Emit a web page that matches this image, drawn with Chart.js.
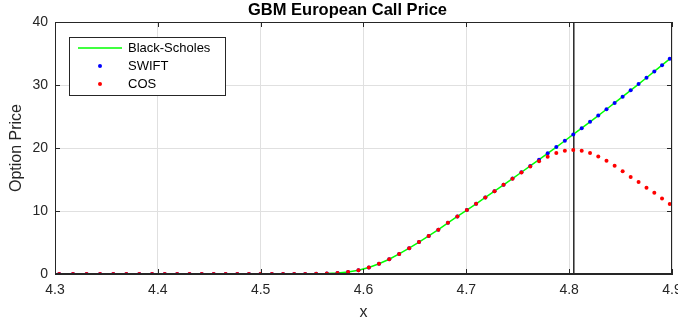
<!DOCTYPE html>
<html>
<head>
<meta charset="utf-8">
<script src="https://cdn.jsdelivr.net/npm/chart.js@4.4.1/dist/chart.umd.min.js"></script>
<style>
  html, body { margin: 0; padding: 0; background: #ffffff; }
  #wrap { width: 678px; height: 327px; }
</style>
</head>
<body>
<div id="wrap"><canvas id="c" width="678" height="327"></canvas></div>
<script>
// log-spot grid (x = ln S for S = 74 ... 134)
const logSpot = [
  4.3041, 4.3175, 4.3307, 4.3438, 4.3567, 4.3694, 4.3820, 4.3944, 4.4067, 4.4188,
  4.4308, 4.4427, 4.4543, 4.4659, 4.4773, 4.4886, 4.4998, 4.5109, 4.5218, 4.5326,
  4.5433, 4.5539, 4.5643, 4.5747, 4.5850, 4.5951, 4.6052, 4.6151, 4.6250, 4.6347,
  4.6444, 4.6540, 4.6634, 4.6728, 4.6821, 4.6913, 4.7005, 4.7095, 4.7185, 4.7274,
  4.7362, 4.7449, 4.7536, 4.7622, 4.7707, 4.7791, 4.7875, 4.7958, 4.8040, 4.8122,
  4.8203, 4.8283, 4.8363, 4.8442, 4.8520, 4.8598, 4.8675, 4.8752, 4.8828, 4.8903,
  4.8978
];

// closed-form reference prices
const blackScholes = [
  0, 0, 0, 0, 0, 0, 0, 0, 0, 0,
  0, 0, 0, 0, 0, 0, 0, 0, 0, 0,
  0.01, 0.02, 0.06, 0.15, 0.32, 0.60, 1.02, 1.62, 2.34, 3.18,
  4.10, 5.06, 6.04, 7.03, 8.12, 9.14, 10.15, 11.15, 12.15, 13.15,
  14.15, 15.15, 16.15, 17.15, 18.15, 19.15, 20.15, 21.15, 22.15, 23.15,
  24.15, 25.15, 26.15, 27.15, 28.15, 29.15, 30.15, 31.15, 32.15, 33.15,
  34.15
];

// SWIFT wavelet prices
const swift = [
  0, 0, 0, 0, 0, 0, 0, 0, 0, 0,
  0, 0, 0, 0, 0, 0, 0, 0, 0, 0,
  0.01, 0.02, 0.06, 0.15, 0.32, 0.60, 1.02, 1.62, 2.34, 3.18,
  4.10, 5.06, 6.04, 7.03, 8.12, 9.14, 10.15, 11.15, 12.15, 13.15,
  14.15, 15.15, 16.15, 17.15, 18.15, 19.15, 20.15, 21.15, 22.15, 23.15,
  24.15, 25.15, 26.15, 27.15, 28.15, 29.15, 30.15, 31.15, 32.15, 33.15,
  34.15
];

// COS prices (break down past the truncation bound)
const cos = [
  0, 0, 0, 0, 0, 0, 0, 0, 0, 0,
  0, 0, 0, 0, 0, 0, 0, 0, 0, 0,
  0.01, 0.02, 0.06, 0.15, 0.32, 0.60, 1.02, 1.62, 2.34, 3.18,
  4.10, 5.06, 6.04, 7.03, 8.12, 9.14, 10.15, 11.15, 12.15, 13.15,
  14.15, 15.12, 16.1, 17.05, 17.9, 18.6, 19.2, 19.55, 19.7, 19.55,
  19.2, 18.65, 17.97, 17.2, 16.3, 15.4, 14.6, 13.7, 12.9, 12.0,
  11.1
];

// truncation bound marker
const boundX = 4.8045;

const xTicks = [4.3, 4.4, 4.5, 4.6, 4.7, 4.8, 4.9];
const yTicks = [0, 10, 20, 30, 40];

const titleText = 'GBM European Call Price';
const xTitle = 'x';
const yTitle = 'Option Price';

const ink = '#262626';
const gridColor = '#e0e0e0';
const fontFam = '"Liberation Sans", Arial, Helvetica, sans-serif';

const pts = arr => logSpot.map((x, i) => ({ x: x, y: arr[i] }));

// title, box frame, inward tick marks and in-plot legend
const decorations = {
  id: 'decorations',
  afterDraw(chart) {
    const ctx = chart.ctx;
    const a = chart.chartArea;
    const sx = chart.scales.x, sy = chart.scales.y;
    ctx.save();

    // frame
    ctx.strokeStyle = ink;
    ctx.lineWidth = 1;
    ctx.strokeRect(Math.round(a.left) + 0.5, Math.round(a.top) + 0.5,
                   Math.round(a.right - a.left) - 1, Math.round(a.bottom - a.top) - 1);

    // inward tick marks on all four sides
    const tl = 5;
    ctx.beginPath();
    xTicks.forEach(v => {
      const px = Math.round(sx.getPixelForValue(v)) + 0.5;
      ctx.moveTo(px, a.bottom); ctx.lineTo(px, a.bottom - tl);
      ctx.moveTo(px, a.top); ctx.lineTo(px, a.top + tl);
    });
    yTicks.forEach(v => {
      const py = Math.round(sy.getPixelForValue(v)) + 0.5;
      ctx.moveTo(a.left, py); ctx.lineTo(a.left + tl, py);
      ctx.moveTo(a.right, py); ctx.lineTo(a.right - tl, py);
    });
    ctx.stroke();

    // title
    ctx.fillStyle = '#000000';
    ctx.font = 'bold 16.5px ' + fontFam;
    ctx.textAlign = 'center';
    ctx.textBaseline = 'middle';
    ctx.fillText(titleText, 347.5, 10);

    // legend box
    const bx = 69.5, by = 37.5, bw = 156, bh = 58;
    ctx.fillStyle = '#ffffff';
    ctx.fillRect(bx, by, bw, bh);
    ctx.strokeStyle = ink;
    ctx.strokeRect(bx, by, bw, bh);

    const items = chart.data.datasets.filter(d => d.inLegend);
    ctx.font = '13px ' + fontFam;
    ctx.textAlign = 'left';
    ctx.textBaseline = 'middle';
    items.forEach((d, i) => {
      const yy = 48 + i * 18;
      if (d.showLine) {
        ctx.strokeStyle = d.borderColor;
        ctx.lineWidth = d.borderWidth;
        ctx.beginPath();
        ctx.moveTo(78, yy); ctx.lineTo(122, yy);
        ctx.stroke();
      } else {
        ctx.fillStyle = d.pointBackgroundColor;
        ctx.beginPath();
        ctx.arc(100, yy, d.pointRadius, 0, Math.PI * 2);
        ctx.fill();
      }
      ctx.fillStyle = '#000000';
      ctx.fillText(d.label, 128, yy + 0.5);
    });
    ctx.restore();
  }
};

new Chart(document.getElementById('c'), {
  type: 'scatter',
  data: {
    datasets: [
      {
        label: 'Black-Scholes',
        inLegend: true,
        data: pts(blackScholes),
        showLine: true,
        borderColor: '#00ff00',
        borderWidth: 1.5,
        pointRadius: 0,
        order: 2
      },
      {
        label: 'SWIFT',
        inLegend: true,
        data: pts(swift),
        showLine: false,
        pointRadius: 2,
        pointBorderWidth: 0,
        pointBackgroundColor: '#0000ff',
        borderColor: '#0000ff',
        order: 1
      },
      {
        label: 'COS',
        inLegend: true,
        data: pts(cos),
        showLine: false,
        pointRadius: 2,
        pointBorderWidth: 0,
        pointBackgroundColor: '#ff0000',
        borderColor: '#ff0000',
        order: 0
      },
      {
        label: 'bound',
        inLegend: false,
        data: [{ x: boundX, y: 0 }, { x: boundX, y: 40 }],
        showLine: true,
        borderColor: ink,
        borderWidth: 1.5,
        pointRadius: 0,
        order: 3
      }
    ]
  },
  plugins: [decorations],
  options: {
    responsive: false,
    animation: false,
    devicePixelRatio: 1,
    layout: { padding: { top: 22, right: 6, left: 0, bottom: 0 } },
    plugins: {
      legend: { display: false },
      title: { display: false },
      tooltip: { enabled: false }
    },
    scales: {
      x: {
        type: 'linear',
        min: 4.3,
        max: 4.9,
        afterBuildTicks: s => { s.ticks = xTicks.map(v => ({ value: v })); },
        afterFit: s => { s.height = 53; s.paddingLeft = 0; s.paddingRight = 0; },
        grid: { color: gridColor, lineWidth: 1, drawTicks: false },
        border: { display: true, color: ink, width: 1 },
        ticks: {
          padding: 8,
          color: ink,
          font: { family: fontFam, size: 14 },
          maxRotation: 0,
          autoSkip: false,
          callback: v => v.toFixed(1)
        },
        title: {
          display: true,
          text: xTitle,
          color: ink,
          font: { family: fontFam, size: 16 },
          padding: { top: 0, bottom: 5 }
        }
      },
      y: {
        type: 'linear',
        min: 0,
        max: 40,
        afterBuildTicks: s => { s.ticks = yTicks.map(v => ({ value: v })); },
        afterFit: s => { s.width = 55; s.paddingTop = 0; s.paddingBottom = 0; },
        grid: { color: gridColor, lineWidth: 1, drawTicks: false },
        border: { display: true, color: ink, width: 1 },
        ticks: {
          padding: 7,
          color: ink,
          font: { family: fontFam, size: 14 },
          autoSkip: false,
          callback: v => String(v)
        },
        title: {
          display: true,
          text: yTitle,
          color: ink,
          font: { family: fontFam, size: 16 },
          padding: { top: 7, bottom: 0 }
        }
      }
    }
  }
});
</script>
</body>
</html>
